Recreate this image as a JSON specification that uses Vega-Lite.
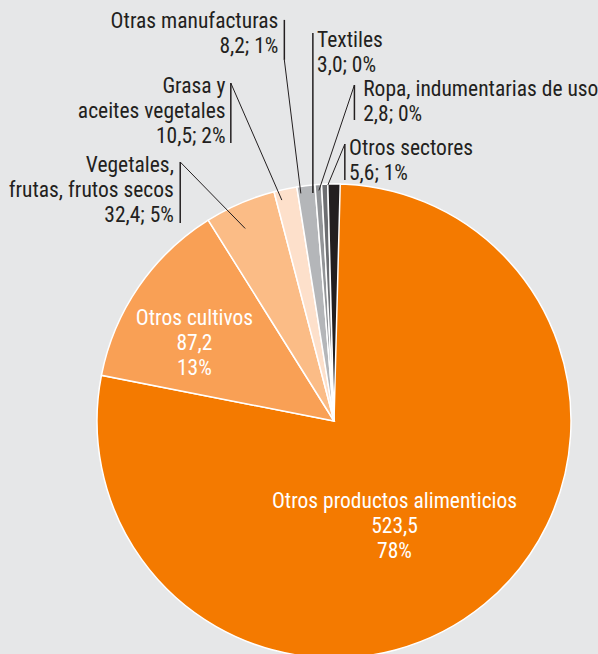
{
  "$schema": "https://vega.github.io/schema/vega-lite/v6.json",
  "autosize": "none",
  "width": 528,
  "height": 466,
  "padding": {"left": 70, "top": 188, "right": 0, "bottom": 0},
  "background": "#e6e7e8",
  "config": {"view": {"stroke": null}, "text": {"font": "Roboto Condensed, Liberation Sans Narrow, DejaVu Sans Condensed, Roboto", "fontSize": 21.5, "lineHeight": 25, "lineBreak": "\n", "baseline": "middle"}, "rule": {"stroke": "#231f20"}},
  "data": {"values": [
    {"sector": "Otros productos alimenticios", "valor": 523.5},
    {"sector": "Otros cultivos", "valor": 87.2},
    {"sector": "Vegetales,\nfrutas, frutos secos", "valor": 32.4},
    {"sector": "Grasa y\naceites vegetales", "valor": 10.5},
    {"sector": "Otras manufacturas", "valor": 8.2},
    {"sector": "Textiles", "valor": 3.0},
    {"sector": "Ropa, indumentarias de uso", "valor": 2.8},
    {"sector": "Otros sectores", "valor": 5.6}
  ]},
  "transform": [
    {"window": [{"op": "row_number", "as": "idx"}]},
    {"joinaggregate": [{"op": "sum", "field": "valor", "as": "total"}]},
    {"stack": "valor", "groupby": [], "sort": [{"field": "idx"}], "as": ["a0", "a1"]},
    {"calculate": "(datum.a0 + datum.a1) / 2", "as": "mid"},
    {"calculate": "2 * PI * datum.mid / datum.total", "as": "ang"},
    {"calculate": "replace(format(datum.valor, '.1f'), '.', ',')", "as": "num"},
    {"calculate": "format(datum.valor / datum.total, '.0%')", "as": "pct"},
    {"calculate": "datum.sector + '\\n' + datum.num + '\\n' + datum.pct", "as": "inlabel"},
    {"calculate": "datum.sector + '\\n' + datum.num + '; ' + datum.pct", "as": "outlabel"}
  ],
  "layer": [
    {
      "mark": {"type": "arc", "outerRadius": 237, "stroke": "#ffffff", "strokeWidth": 1.5},
      "encoding": {
        "theta": {"field": "a0", "type": "quantitative", "stack": null},
        "theta2": {"field": "a1"},
        "color": {"field": "sector", "type": "nominal", "legend": null,
          "scale": {"domain": ["Otros productos alimenticios", "Otros cultivos", "Vegetales,\nfrutas, frutos secos", "Grasa y\naceites vegetales", "Otras manufacturas", "Textiles", "Ropa, indumentarias de uso", "Otros sectores"],
                    "range": ["#f47a00", "#f9a055", "#fbbc86", "#fde0cb", "#b4b6b9", "#939598", "#6d6e71", "#231f20"]}}
      }
    },
    {
      "transform": [{"filter": "datum.idx == 3"}, {"calculate": "width / 2 + 212 * sin(datum.ang)", "as": "sx"}, {"calculate": "height / 2 - 212 * cos(datum.ang)", "as": "sy"}],
      "layer": [
        {"mark": {"type": "rule", "strokeWidth": 1, "x2Offset": -65, "y2Offset": -66.5},
         "encoding": {"x": {"field": "sx", "type": "quantitative", "scale": null}, "y": {"field": "sy", "type": "quantitative", "scale": null}, "x2": {"field": "sx"}, "y2": {"field": "sy"}}},
        {"mark": {"type": "rule", "strokeWidth": 1.5, "xOffset": -65, "yOffset": -66.5, "y2Offset": -5.5},
         "encoding": {"x": {"field": "sx", "type": "quantitative", "scale": null}, "y": {"field": "sy", "type": "quantitative", "scale": null}, "y2": {"field": "sy"}}}
      ]
    },
    {
      "transform": [{"filter": "datum.idx == 4"}, {"calculate": "width / 2 + 227 * sin(datum.ang)", "as": "sx"}, {"calculate": "height / 2 - 227 * cos(datum.ang)", "as": "sy"}],
      "layer": [
        {"mark": {"type": "rule", "strokeWidth": 1, "x2Offset": -51, "y2Offset": -117},
         "encoding": {"x": {"field": "sx", "type": "quantitative", "scale": null}, "y": {"field": "sy", "type": "quantitative", "scale": null}, "x2": {"field": "sx"}, "y2": {"field": "sy"}}},
        {"mark": {"type": "rule", "strokeWidth": 1.5, "xOffset": -51, "yOffset": -117, "y2Offset": -57},
         "encoding": {"x": {"field": "sx", "type": "quantitative", "scale": null}, "y": {"field": "sy", "type": "quantitative", "scale": null}, "y2": {"field": "sy"}}}
      ]
    },
    {
      "transform": [{"filter": "datum.idx == 5"}, {"calculate": "width / 2 + 230 * sin(datum.ang)", "as": "sx"}, {"calculate": "height / 2 - 230 * cos(datum.ang)", "as": "sy"}],
      "layer": [
        {"mark": {"type": "rule", "strokeWidth": 1, "x2Offset": -16.5, "y2Offset": -133.5},
         "encoding": {"x": {"field": "sx", "type": "quantitative", "scale": null}, "y": {"field": "sy", "type": "quantitative", "scale": null}, "x2": {"field": "sx"}, "y2": {"field": "sy"}}},
        {"mark": {"type": "rule", "strokeWidth": 1.5, "xOffset": -16.5, "yOffset": -133.5, "y2Offset": -173.5},
         "encoding": {"x": {"field": "sx", "type": "quantitative", "scale": null}, "y": {"field": "sy", "type": "quantitative", "scale": null}, "y2": {"field": "sy"}}}
      ]
    },
    {
      "transform": [{"filter": "datum.idx == 6"}, {"calculate": "width / 2 + 229 * sin(datum.ang)", "as": "sx"}, {"calculate": "height / 2 - 229 * cos(datum.ang)", "as": "sy"}],
      "mark": {"type": "rule", "strokeWidth": 1.5, "y2Offset": -160},
      "encoding": {"x": {"field": "sx", "type": "quantitative", "scale": null}, "y": {"field": "sy", "type": "quantitative", "scale": null}, "y2": {"field": "sy"}}
    },
    {
      "transform": [{"filter": "datum.idx == 7"}, {"calculate": "width / 2 + 231 * sin(datum.ang)", "as": "sx"}, {"calculate": "height / 2 - 231 * cos(datum.ang)", "as": "sy"}],
      "layer": [
        {"mark": {"type": "rule", "strokeWidth": 1, "x2Offset": 35.5, "y2Offset": -105.5},
         "encoding": {"x": {"field": "sx", "type": "quantitative", "scale": null}, "y": {"field": "sy", "type": "quantitative", "scale": null}, "x2": {"field": "sx"}, "y2": {"field": "sy"}}},
        {"mark": {"type": "rule", "strokeWidth": 1.5, "xOffset": 35.5, "yOffset": -105.5, "y2Offset": -70.5},
         "encoding": {"x": {"field": "sx", "type": "quantitative", "scale": null}, "y": {"field": "sy", "type": "quantitative", "scale": null}, "y2": {"field": "sy"}}}
      ]
    },
    {
      "transform": [{"filter": "datum.idx == 8"}, {"calculate": "width / 2 + 236 * sin(datum.ang)", "as": "sx"}, {"calculate": "height / 2 - 236 * cos(datum.ang)", "as": "sy"}],
      "layer": [
        {"mark": {"type": "rule", "strokeWidth": 1, "x2Offset": 17, "y2Offset": -41},
         "encoding": {"x": {"field": "sx", "type": "quantitative", "scale": null}, "y": {"field": "sy", "type": "quantitative", "scale": null}, "x2": {"field": "sx"}, "y2": {"field": "sy"}}},
        {"mark": {"type": "rule", "strokeWidth": 1.5, "xOffset": 17, "yOffset": -41, "y2Offset": -5},
         "encoding": {"x": {"field": "sx", "type": "quantitative", "scale": null}, "y": {"field": "sy", "type": "quantitative", "scale": null}, "y2": {"field": "sy"}}}
      ]
    },
    {
      "transform": [{"filter": "datum.idx == 1"}],
      "mark": {"type": "text", "radius": 100, "dx": -3, "dy": 4, "align": "center", "fill": "#ffffff"},
      "encoding": {"theta": {"field": "mid", "type": "quantitative"}, "text": {"field": "inlabel"}}
    },
    {
      "transform": [{"filter": "datum.idx == 2"}],
      "mark": {"type": "text", "radius": 150, "dx": -16, "dy": -17, "align": "center", "fill": "#ffffff"},
      "encoding": {"theta": {"field": "mid", "type": "quantitative"}, "text": {"field": "inlabel"}}
    },
    {
      "transform": [{"filter": "datum.idx == 3"}],
      "mark": {"type": "text", "radius": 250, "dx": -61, "dy": -25, "align": "right", "fill": "#231f20"},
      "encoding": {"theta": {"field": "mid", "type": "quantitative"}, "text": {"field": "outlabel"}}
    },
    {
      "transform": [{"filter": "datum.idx == 4"}],
      "mark": {"type": "text", "radius": 280, "dx": -51, "dy": -60, "align": "right", "fill": "#231f20"},
      "encoding": {"theta": {"field": "mid", "type": "quantitative"}, "text": {"field": "outlabel"}}
    },
    {
      "transform": [{"filter": "datum.idx == 5"}],
      "mark": {"type": "text", "radius": 300, "dx": -20, "dy": -101, "align": "right", "fill": "#231f20"},
      "encoding": {"theta": {"field": "mid", "type": "quantitative"}, "text": {"field": "outlabel"}}
    },
    {
      "transform": [{"filter": "datum.idx == 6"}],
      "mark": {"type": "text", "radius": 300, "dx": 3, "dy": -81, "align": "left", "fill": "#231f20"},
      "encoding": {"theta": {"field": "mid", "type": "quantitative"}, "text": {"field": "outlabel"}}
    },
    {
      "transform": [{"filter": "datum.idx == 7"}],
      "mark": {"type": "text", "radius": 300, "dx": 41, "dy": -31, "align": "left", "fill": "#231f20"},
      "encoding": {"theta": {"field": "mid", "type": "quantitative"}, "text": {"field": "outlabel"}}
    },
    {
      "transform": [{"filter": "datum.idx == 8"}],
      "mark": {"type": "text", "radius": 250, "dx": 15, "dy": -22, "align": "left", "fill": "#231f20"},
      "encoding": {"theta": {"field": "mid", "type": "quantitative"}, "text": {"field": "outlabel"}}
    }
  ]
}
